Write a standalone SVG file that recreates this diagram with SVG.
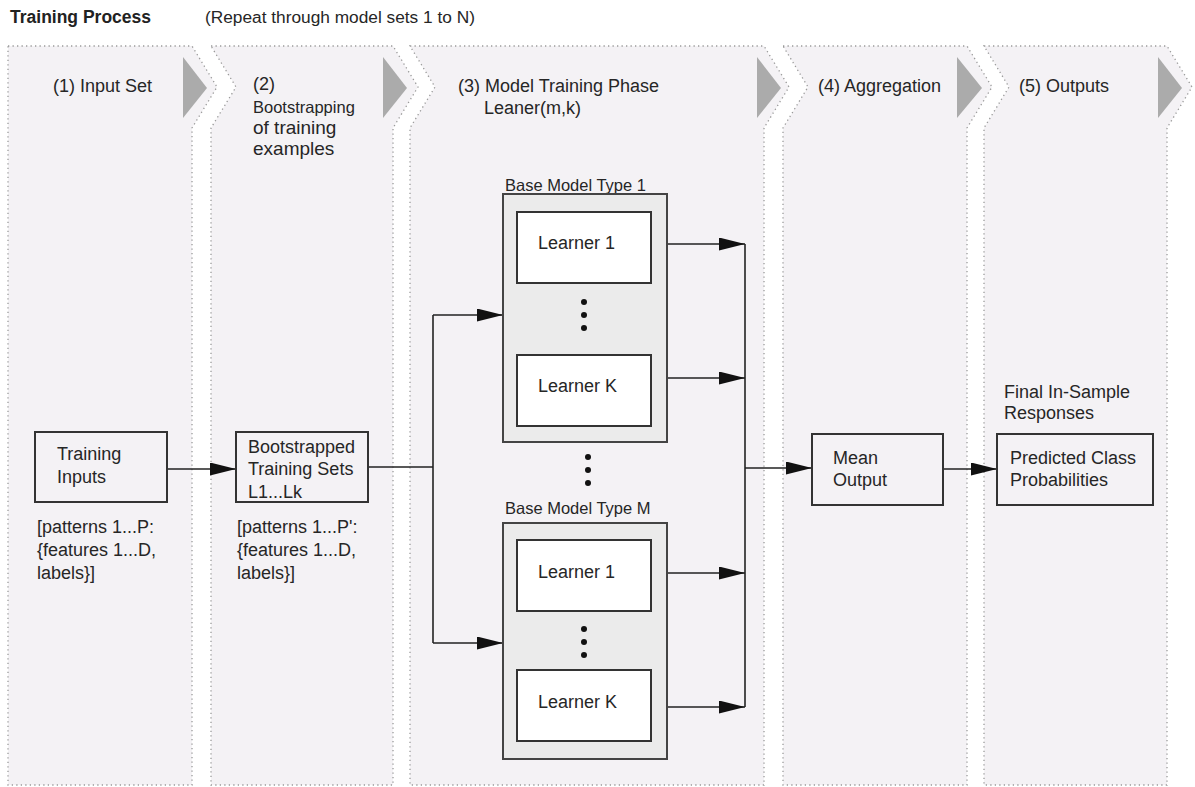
<svg xmlns="http://www.w3.org/2000/svg" width="1195" height="787" viewBox="0 0 1195 787">
<style>
text{font-family:"Liberation Sans",Arial,sans-serif;fill:#262626;font-size:18px}
.title{font-weight:bold;font-size:17.5px;fill:#222}
.sub{font-size:17.3px}
.small{font-size:16.5px}
.mid{font-size:19px}
.bm{font-size:16.5px}
.panel{fill:#f4f2f5;stroke:#9a9a9a;stroke-width:1.3;stroke-dasharray:1.3 3.2}
.tri{fill:#ababab}
.box{fill:#ffffff;stroke:#333;stroke-width:2}
.outer{fill:#ebebeb;stroke:#444;stroke-width:2}
.plain{fill:none;stroke:#333;stroke-width:2}
.line{fill:none;stroke:#222;stroke-width:1.6}
.arr{fill:none;stroke:#222;stroke-width:1.6;marker-end:url(#ah)}
.dot{fill:#111}
</style>
<defs>
<marker id="ah" markerUnits="userSpaceOnUse" markerWidth="27" markerHeight="14" refX="26" refY="6.5" orient="auto">
<path d="M0,0 L26,6.5 L0,13 Z" fill="#111"/>
</marker>
</defs>
<rect width="1195" height="787" fill="#ffffff"/>
<g id="header">
<text class="title" x="10" y="23">Training Process</text>
<text class="sub" x="205" y="23">(Repeat through model sets 1 to N)</text>
</g>
<g id="panels">
<path class="panel" d="M8,46 H192 L217,87 L192,128 V785 H8 Z"/>
<path class="panel" d="M211,46 H393 L418,87 L393,128 V785 H211 V128 L236,87 Z"/>
<path class="panel" d="M410,46 H764 L789,87 L764,128 V785 H410 V128 L435,87 Z"/>
<path class="panel" d="M783,46 H967 L992,87 L967,128 V785 H783 V128 L808,87 Z"/>
<path class="panel" d="M984,46 H1167 L1192,87 L1167,128 V785 H984 V128 L1009,87 Z"/>
<polygon class="tri" points="183,57 207,88 183,118"/>
<polygon class="tri" points="383,57 407,88 383,118"/>
<polygon class="tri" points="757,57 781,88 757,118"/>
<polygon class="tri" points="957,57 982,88 957,118"/>
<polygon class="tri" points="1158,57 1182,88 1158,118"/>
</g>
<g id="panel-labels">
<text x="53" y="92">(1) Input Set</text>
<text x="253" y="90">(2)</text>
<text x="253" y="113" class="small">Bootstrapping</text>
<text x="253" y="134" class="mid">of training</text>
<text x="253" y="155" class="mid">examples</text>
<text x="458" y="92">(3) Model Training Phase</text>
<text x="484" y="114">Leaner(m,k)</text>
<text x="818" y="92">(4) Aggregation</text>
<text x="1019" y="92">(5) Outputs</text>
</g>
<g id="connectors">
<line class="arr" x1="167" y1="469" x2="236" y2="469"/>
<polyline class="line" points="368,467 433,467"/>
<line class="line" x1="433" y1="315" x2="433" y2="643"/>
<line class="arr" x1="433" y1="315" x2="503" y2="315"/>
<line class="arr" x1="433" y1="643" x2="503" y2="643"/>
<line class="arr" x1="667" y1="244" x2="745" y2="244"/>
<line class="arr" x1="667" y1="378" x2="745" y2="378"/>
<line class="arr" x1="667" y1="573" x2="745" y2="573"/>
<line class="arr" x1="667" y1="707" x2="745" y2="707"/>
<line class="line" x1="745" y1="244" x2="745" y2="707"/>
<line class="arr" x1="745" y1="468" x2="812" y2="468"/>
<line class="arr" x1="943" y1="469" x2="997" y2="469"/>
</g>
<g id="training-inputs">
<rect class="plain" x="35" y="432" width="132" height="70"/>
<text x="57" y="460">Training</text>
<text x="57" y="483">Inputs</text>
<text x="37" y="533">[patterns  1...P:</text>
<text x="37" y="556">{features  1...D,</text>
<text x="37" y="579">labels}]</text>
</g>
<g id="bootstrapped">
<rect class="plain" x="236" y="432" width="132" height="70"/>
<text x="248" y="453">Bootstrapped</text>
<text x="248" y="475">Training Sets</text>
<text x="248" y="498">L1...Lk</text>
<text x="237" y="533">[patterns  1...P':</text>
<text x="237" y="556">{features  1...D,</text>
<text x="237" y="579">labels}]</text>
</g>
<g id="base-model-1">
<text x="505" y="191" class="bm">Base Model Type 1</text>
<rect class="outer" x="503" y="194" width="164" height="248"/>
<rect class="box" x="517" y="212" width="134" height="71"/>
<text x="538" y="249">Learner  1</text>
<circle class="dot" cx="584" cy="302" r="3"/>
<circle class="dot" cx="584" cy="315" r="3"/>
<circle class="dot" cx="584" cy="328" r="3"/>
<rect class="box" x="517" y="355" width="134" height="71"/>
<text x="538" y="392">Learner K</text>
</g>
<g id="between-models">
<circle class="dot" cx="588" cy="457" r="3"/>
<circle class="dot" cx="588" cy="470" r="3"/>
<circle class="dot" cx="588" cy="483" r="3"/>
</g>
<g id="base-model-m">
<text x="505" y="514" class="bm">Base Model Type M</text>
<rect class="outer" x="503" y="523" width="164" height="236"/>
<rect class="box" x="517" y="540" width="134" height="71"/>
<text x="538" y="578">Learner  1</text>
<circle class="dot" cx="584" cy="629" r="3"/>
<circle class="dot" cx="584" cy="642" r="3"/>
<circle class="dot" cx="584" cy="655" r="3"/>
<rect class="box" x="517" y="670" width="134" height="71"/>
<text x="538" y="708">Learner K</text>
</g>
<g id="mean-output">
<rect class="plain" x="812" y="434" width="131" height="71"/>
<text x="833" y="464">Mean</text>
<text x="833" y="486">Output</text>
</g>
<g id="predicted">
<text x="1004" y="398">Final In-Sample</text>
<text x="1004" y="419">Responses</text>
<rect class="plain" x="997" y="434" width="156" height="71"/>
<text x="1010" y="464">Predicted Class</text>
<text x="1010" y="486">Probabilities</text>
</g>
</svg>
